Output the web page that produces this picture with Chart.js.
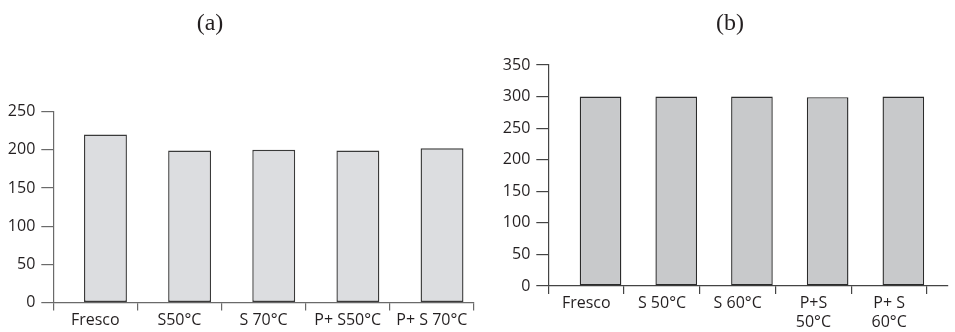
<!DOCTYPE html>
<html>
<head>
<meta charset="utf-8">
<script src="https://cdn.jsdelivr.net/npm/chart.js@4/dist/chart.umd.min.js"></script>
<style>
  html, body { margin: 0; padding: 0; background: #fff; }
  #wrap { position: relative; width: 955px; height: 332px; overflow: hidden; }
  canvas { position: absolute; top: 0; }
  .panel-title {
    position: absolute; top: 7px; width: 60px; margin-left: -30px;
    text-align: center; font-family: "Liberation Serif", "DejaVu Serif", serif;
    font-size: 24px; line-height: 30px; color: #231f20;
  }
</style>
</head>
<body>
<div id="wrap">
  <canvas id="chartA" width="480" height="332" style="left:0"></canvas>
  <canvas id="chartB" width="475" height="332" style="left:480px"></canvas>
  <div class="panel-title" style="left:210px">(a)</div>
  <div class="panel-title" style="left:730px">(b)</div>
</div>
<script>
// Panel (a)
const categoriesA = ['Fresco', 'S50°C', 'S 70°C', 'P+ S50°C', 'P+ S 70°C'];
const valuesA = [220, 199, 200, 199, 202];
const yMaxA = 250;

// Panel (b)
const categoriesB = ['Fresco', 'S 50°C', 'S 60°C', ['P+S', '50°C'], ['P+ S', '60°C']];
const valuesB = [300, 300, 300, 299, 300];
const yMaxB = 350;

const yStep = 50;
const textColor = '#231f20';
const tickFont = { family: '"Open Sans", "Liberation Sans", sans-serif', size: 16 };

function makePanel(canvasId, cfg) {
  const n = cfg.categories.length;
  const points = cfg.values.map((v, i) => ({ x: i + cfg.barShift, y: v }));
  return new Chart(document.getElementById(canvasId), {
    type: 'bar',
    data: {
      datasets: [{
        data: points,
        backgroundColor: cfg.fill,
        borderColor: cfg.edge,
        borderWidth: 1.4,
        borderSkipped: false,
        categoryPercentage: 1,
        barPercentage: cfg.barPct
      }]
    },
    options: {
      responsive: false,
      animation: false,
      events: [],
      layout: { padding: cfg.padding },
      plugins: { legend: { display: false }, tooltip: { enabled: false }, title: { display: false } },
      scales: {
        x: {
          type: 'linear',
          min: 0,
          max: cfg.xMax,
          offset: false,
          afterBuildTicks: axis => {
            axis.ticks = Array.from({ length: n + 1 }, (_, i) => ({ value: i }));
          },
          afterFit: axis => { axis.height = cfg.xHeight; },
          grid: {
            offset: false,
            drawOnChartArea: false,
            drawTicks: true,
            tickLength: 8,
            color: cfg.axisColor,
            lineWidth: 1.2
          },
          border: { display: true, color: cfg.axisColor, width: 1.2 },
          ticks: {
            autoSkip: false,
            maxRotation: 0,
            minRotation: 0,
            padding: 0,
            labelOffset: cfg.labelOffset,
            color: textColor,
            font: tickFont,
            callback: (value, index) => (index < n ? cfg.categories[index] : '')
          }
        },
        y: {
          min: 0,
          max: cfg.yMax,
          afterFit: axis => { axis.width = cfg.yWidth; },
          grid: {
            drawOnChartArea: false,
            drawTicks: true,
            tickLength: 12,
            color: cfg.axisColor,
            lineWidth: 1.2
          },
          border: { display: true, color: cfg.axisColor, width: 1.2 },
          ticks: {
            stepSize: yStep,
            padding: 6,
            color: textColor,
            font: tickFont
          }
        }
      }
    }
  });
}

makePanel('chartA', {
  categories: categoriesA,
  values: valuesA,
  yMax: yMaxA,
  xMax: 5,
  barShift: 0.62,
  barPct: 0.51,
  labelOffset: 42,
  fill: '#dcdde0',
  edge: '#3a3a3a',
  axisColor: '#6a6a6a',
  yWidth: 53.3,
  xHeight: 29.5,
  padding: { left: 0, right: 6, top: 111.7, bottom: 0 }
});

makePanel('chartB', {
  categories: categoriesB,
  values: valuesB,
  yMax: yMaxB,
  xMax: 5.28,
  barShift: 0.69,
  barPct: 0.55,
  labelOffset: 38,
  fill: '#c8c9cb',
  edge: '#2b2b2b',
  axisColor: '#444444',
  yWidth: 68.3,
  xHeight: 46,
  padding: { left: 0, right: 7, top: 65, bottom: 0 }
});
</script>
</body>
</html>
